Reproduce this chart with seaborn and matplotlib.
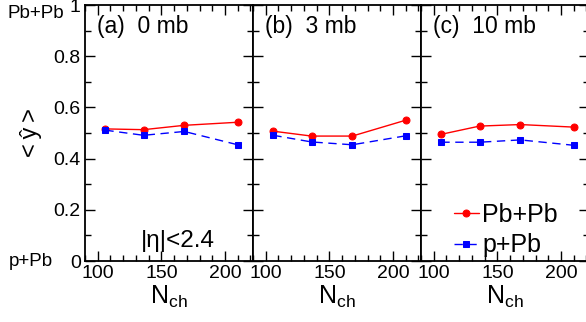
import numpy as np
import pandas as pd
import matplotlib
matplotlib.use('Agg')
import matplotlib.pyplot as plt
import seaborn as sns
from matplotlib.ticker import MultipleLocator

# values
nch = [106, 136, 168, 210]
panels = ['(a)  0 mb', '(b)  3 mb', '(c)  10 mb']
pbpb = [[0.516, 0.513, 0.530, 0.542],
        [0.507, 0.488, 0.488, 0.550],
        [0.495, 0.527, 0.533, 0.523]]
ppb = [[0.511, 0.491, 0.506, 0.454],
       [0.491, 0.465, 0.454, 0.489],
       [0.464, 0.464, 0.473, 0.452]]

sns.set_style('ticks')
plt.rcParams['font.family'] = ['Liberation Sans', 'DejaVu Sans']
plt.rcParams['mathtext.fontset'] = 'custom'
plt.rcParams['mathtext.rm'] = 'Liberation Sans'
plt.rcParams['text.color'] = 'black'
plt.rcParams['axes.labelcolor'] = 'black'

fig = plt.figure(figsize=(5.86, 3.22), dpi=100)
W, H = 586.0, 322.0
lefts = [85, 253, 421]
for i, x0 in enumerate(lefts):
    ax = fig.add_axes([x0 / W, 61 / H, 168 / W, 256 / H])
    df = pd.DataFrame({'nch': nch, 'pbpb': pbpb[i], 'ppb': ppb[i]})
    sns.lineplot(data=df, x='nch', y='pbpb', ax=ax, color='red', lw=1,
                 marker='o', markersize=5, markeredgecolor='red', label='Pb+Pb')
    sns.lineplot(data=df, x='nch', y='ppb', ax=ax, color='blue', lw=1,
                 linestyle=(0, (6, 4)), marker='s', markersize=5,
                 markeredgecolor='blue', label='p+Pb')
    ax.set_xlim(90, 222)
    ax.set_ylim(0, 1)
    ax.xaxis.set_major_locator(MultipleLocator(50))
    ax.xaxis.set_minor_locator(MultipleLocator(10))
    ax.yaxis.set_major_locator(MultipleLocator(0.2))
    ax.yaxis.set_minor_locator(MultipleLocator(0.1))
    ax.tick_params(which='both', direction='in', top=True, right=True,
                   labelsize=14, width=1, colors='black', pad=3)
    ax.tick_params(which='major', length=7)
    ax.tick_params(which='minor', length=4)
    for s in ax.spines.values():
        s.set_linewidth(1.3)
        s.set_color('black')
    ax.set_xlabel(r'N$_\mathregular{ch}$', fontsize=18, labelpad=1)
    ax.set_ylabel('')
    ax.text(0.07, 0.96, panels[i], transform=ax.transAxes, fontsize=16.5,
            va='top', ha='left')
    if i == 0:
        ax.set_yticks([0, 0.2, 0.4, 0.6, 0.8, 1.0])
        ax.set_yticklabels(['0', '0.2', '0.4', '0.6', '0.8', '1'])
        ax.set_ylabel('<\u2009ŷ\u2009>', fontsize=17, labelpad=8)
        ax.text(-0.29, 1.0, 'Pb+Pb', transform=ax.transAxes, fontsize=13.5,
                va='top', ha='center')
        ax.text(-0.32, 0.0, 'p+Pb', transform=ax.transAxes, fontsize=13.5,
                va='center', ha='center')
        ax.text(0.55, 0.035, '|η|<2.4', transform=ax.transAxes, fontsize=17.5,
                va='bottom', ha='center')
    else:
        ax.set_yticklabels([])
    if i == 2:
        ax.legend(loc='lower right', frameon=False, fontsize=18,
                  handlelength=1.0, handletextpad=0.15, labelspacing=0.25,
                  borderaxespad=0.1, bbox_to_anchor=(0.89, -0.035))
    else:
        ax.get_legend().remove()

fig.savefig('out.png', dpi=100)
